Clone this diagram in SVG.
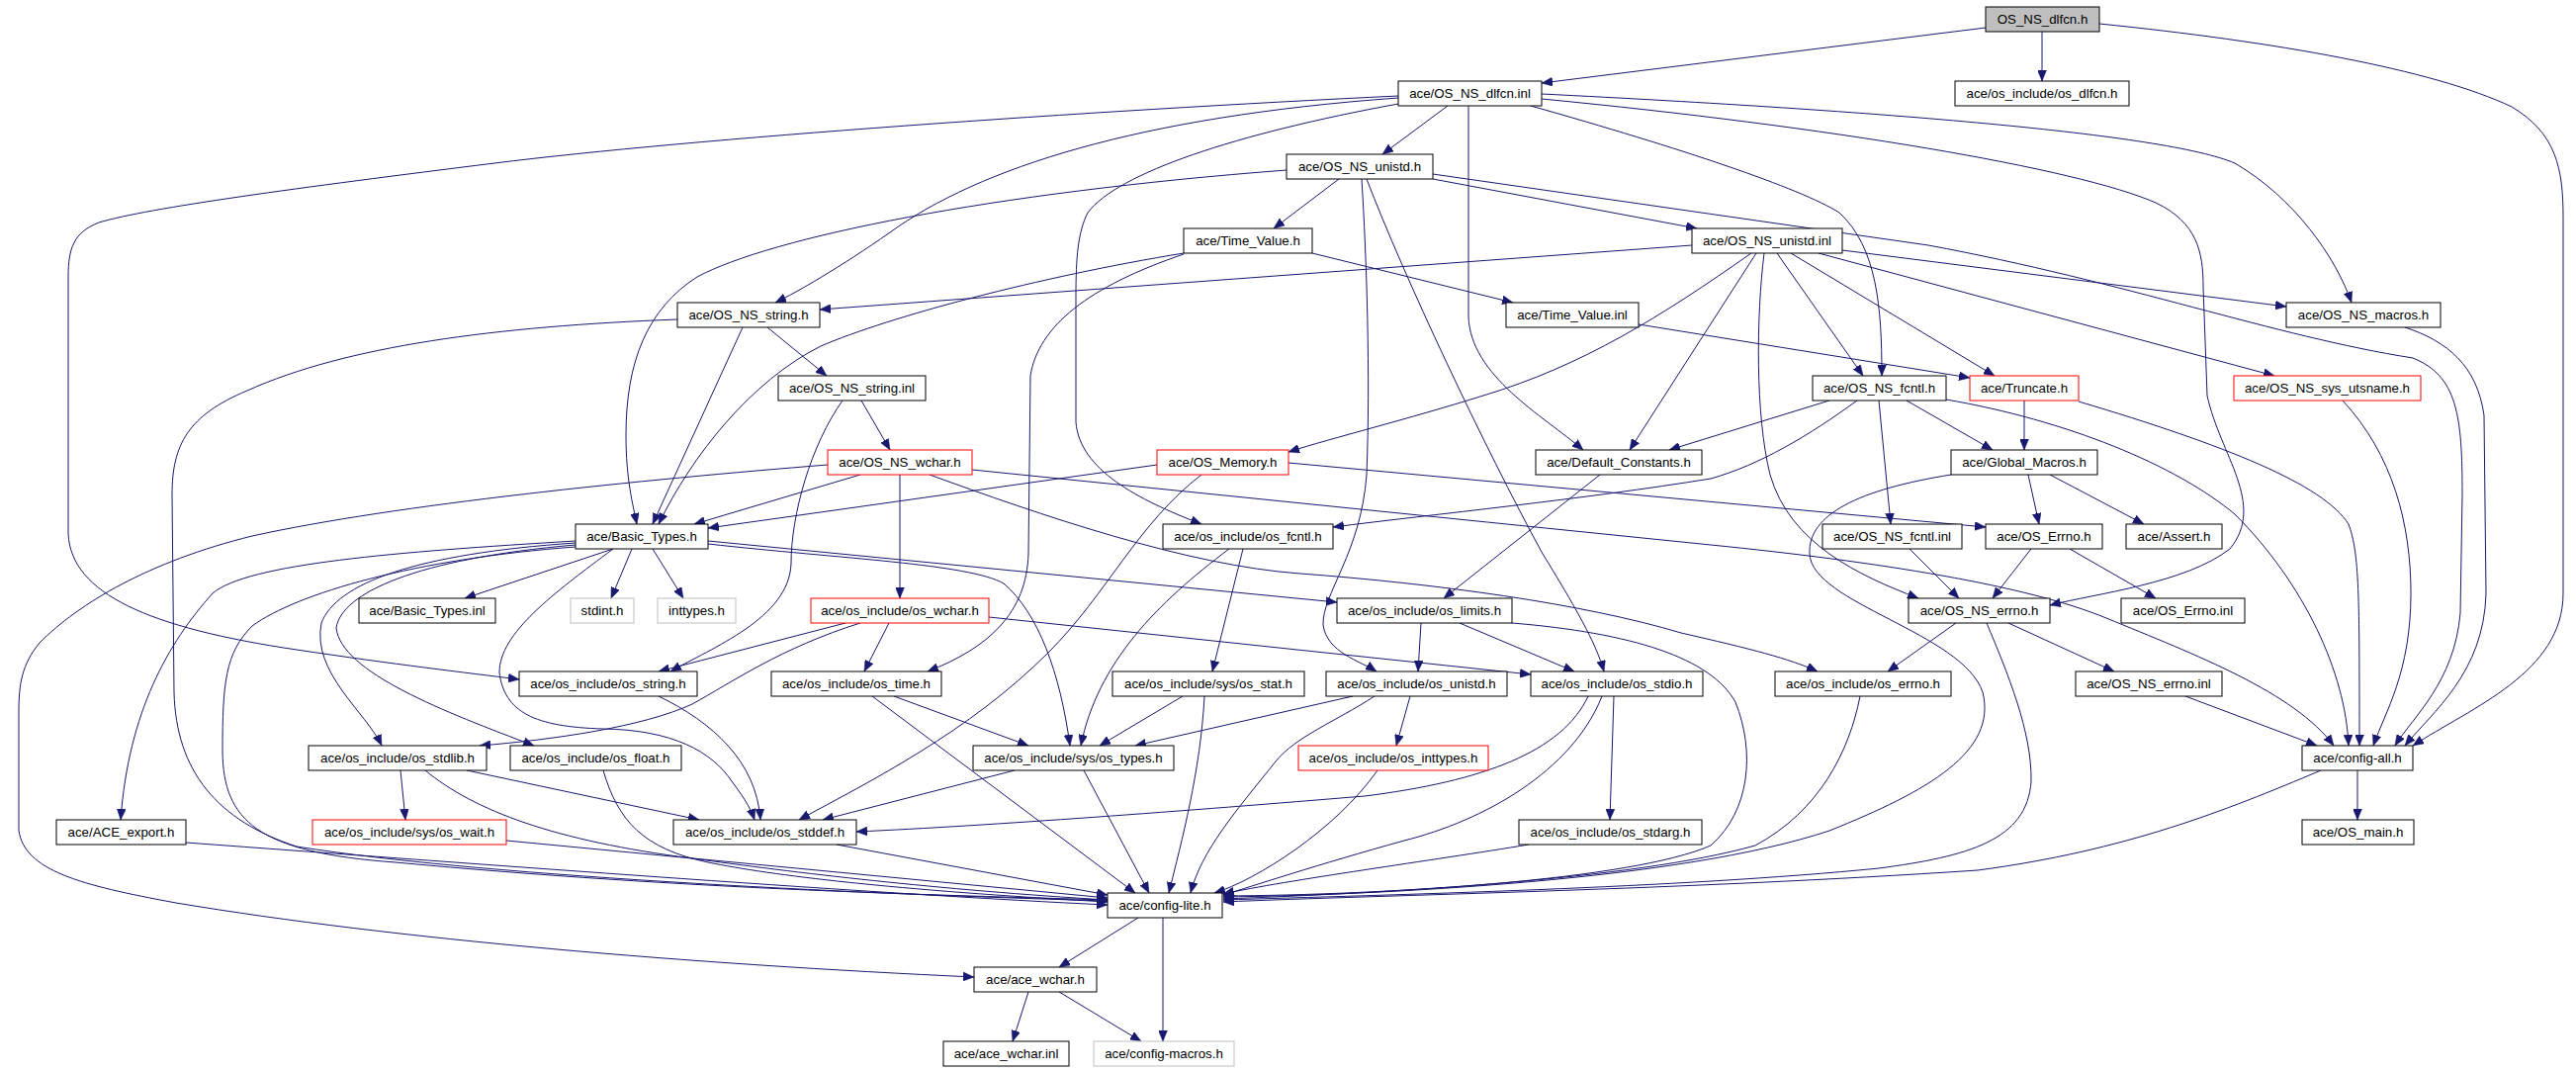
<svg xmlns="http://www.w3.org/2000/svg" width="2605" height="1083" viewBox="0 0 2605 1083">
<style>
.n rect{fill:#ffffff;stroke:#000000;stroke-width:1}
.n.r rect{stroke:#ff0000}
.n.g rect{stroke:#bfbfbf}
.n.root rect{fill:#bfbfbf}
.n text{font-family:"Liberation Sans",Arial,sans-serif;font-size:13.3px;fill:#000000;text-anchor:middle}
#edges path{fill:none;stroke:#191970;stroke-width:1;marker-end:url(#ah)}
</style>
<defs>
<marker id="ah" markerUnits="userSpaceOnUse" markerWidth="12" markerHeight="9" refX="11" refY="4.5" orient="auto">
<path d="M0,0 L11,4.5 L0,9 z" fill="#191970" stroke="#191970" stroke-width="0.5"/>
</marker>
</defs>
<rect x="0" y="0" width="2605" height="1083" fill="#ffffff"/>
<g id="edges">
<path d="M2008,28 L1559,84"/>
<path d="M2065,32 L2065,82"/>
<path d="M2123,24 C2300,42 2460,70 2540,108 C2585,135 2592,170 2592,220 L2592,600 C2592,680 2500,715 2440,754"/>
<path d="M1464,107 L1398,156"/>
<path d="M1414,99 C1150,118 990,170 900,235 C850,270 805,296 784,306"/>
<path d="M1414,97 C1100,112 700,140 500,165 C300,190 150,210 100,225 C75,235 69,250 69,280 L69,540 C72,600 150,635 300,657 C400,672 470,680 525,687"/>
<path d="M1414,105 C1250,135 1130,175 1100,215 C1090,235 1088,260 1088,300 L1088,427 C1092,475 1150,505 1215,530"/>
<path d="M1485,107 L1485,320 C1487,380 1560,420 1601,455"/>
<path d="M1559,95 C1900,112 2190,135 2260,165 C2320,200 2362,260 2378,306"/>
<path d="M1559,100 C1850,128 2100,170 2180,205 C2222,225 2228,255 2228,290 L2232,400 C2245,460 2292,510 2255,555 C2210,590 2120,600 2073,612"/>
<path d="M1548,107 C1700,150 1820,190 1860,215 C1898,250 1903,310 1903,380"/>
<path d="M1354,181 L1288,231"/>
<path d="M1449,181 L1716,231"/>
<path d="M1301,172 C1000,195 780,240 705,280 C655,312 633,365 633,440 C633,485 640,510 644,530"/>
<path d="M1377,181 C1382,260 1386,380 1382,480 C1376,560 1337,600 1338,632 C1342,660 1375,668 1392,679"/>
<path d="M1382,181 C1420,280 1500,450 1560,560 C1592,612 1614,650 1622,679"/>
<path d="M1449,176 L1950,248 C2150,285 2300,340 2440,362 C2485,380 2490,420 2490,500 L2488,620 C2482,690 2440,725 2422,754"/>
<path d="M2432,331 C2475,345 2505,370 2512,420 L2514,600 C2512,680 2460,720 2432,754"/>
<path d="M1197,256 C1050,280 900,320 830,350 C760,385 700,460 666,530"/>
<path d="M1197,257 C1100,290 1050,330 1042,380 L1040,560 C1038,620 1000,655 938,679"/>
<path d="M1327,256 L1530,306"/>
<path d="M1711,248 L829,313"/>
<path d="M1863,253 L2312,310"/>
<path d="M1839,256 L2300,380"/>
<path d="M1811,256 L2017,380"/>
<path d="M1797,256 L1884,380"/>
<path d="M1784,256 C1776,320 1775,420 1790,480 C1810,550 1880,582 1940,605"/>
<path d="M1776,256 L1648,455"/>
<path d="M1771,256 C1680,320 1600,370 1500,400 C1420,425 1350,442 1303,457"/>
<path d="M751,331 L660,530"/>
<path d="M776,331 L836,380"/>
<path d="M685,323 C500,330 350,350 250,395 C190,420 174,450 174,500 L176,700 C178,780 220,830 300,856 C500,888 900,905 1120,911"/>
<path d="M1657,328 L1992,382"/>
<path d="M871,405 L900,455"/>
<path d="M852,405 C820,450 800,520 800,570 C798,625 720,655 678,679"/>
<path d="M1878,405 C1830,440 1780,470 1730,484 C1600,505 1450,520 1348,533"/>
<path d="M1850,405 L1688,455"/>
<path d="M1928,405 L2015,455"/>
<path d="M1900,405 L1912,530"/>
<path d="M1968,404 C2090,425 2200,470 2260,520 C2330,590 2372,680 2375,754"/>
<path d="M2047,405 L2047,455"/>
<path d="M2102,406 C2250,450 2350,490 2375,530 C2386,560 2386,600 2386,754"/>
<path d="M2369,405 C2420,460 2438,530 2438,600 C2438,680 2412,720 2400,754"/>
<path d="M870,480 L702,530"/>
<path d="M910,480 L910,605"/>
<path d="M837,470 C650,485 400,510 255,542 C150,568 80,610 40,650 C22,672 19,692 19,720 L19,840 C25,880 80,895 178,913 C400,950 700,975 985,988"/>
<path d="M940,480 C1050,520 1200,572 1315,580 C1450,590 1600,610 1700,640 C1770,656 1810,666 1838,679"/>
<path d="M983,475 L1730,551 C1900,568 2050,592 2130,625 C2220,662 2320,700 2360,754"/>
<path d="M1170,470 L716,534"/>
<path d="M1303,468 L2008,533"/>
<path d="M1215,480 C1150,530 1120,600 1060,660 C980,740 880,790 808,829"/>
<path d="M1618,480 L1460,605"/>
<path d="M2051,480 L2062,530"/>
<path d="M2073,480 L2168,530"/>
<path d="M1973,480 C1880,495 1828,520 1830,560 C1832,610 1985,640 2005,700 C2020,760 1950,800 1850,840 C1700,890 1400,905 1237,907"/>
<path d="M1931,555 L1981,605"/>
<path d="M2054,555 L2015,605"/>
<path d="M2093,555 L2180,605"/>
<path d="M1978,630 L1909,679"/>
<path d="M2031,630 L2138,679"/>
<path d="M2009,630 C2030,680 2055,740 2054,790 C2050,850 1990,866 1900,878 C1700,898 1400,905 1237,910"/>
<path d="M1881,704 C1870,760 1840,820 1775,855 C1650,890 1400,903 1237,909"/>
<path d="M1529,630 C1650,640 1730,665 1755,710 C1775,760 1770,820 1730,855 C1650,890 1400,905 1237,906"/>
<path d="M1437,630 L1434,679"/>
<path d="M1476,630 L1592,679"/>
<path d="M855,630 L666,679"/>
<path d="M870,630 C790,655 740,690 700,712 C650,735 560,748 485,754"/>
<path d="M899,630 L874,679"/>
<path d="M1000,624 L1548,682"/>
<path d="M666,704 C720,730 765,770 769,829"/>
<path d="M882,704 L1148,903"/>
<path d="M904,704 L1040,754"/>
<path d="M1196,704 L1112,754"/>
<path d="M1218,704 C1214,780 1195,850 1182,903"/>
<path d="M1243,555 C1170,610 1110,670 1093,754"/>
<path d="M1257,555 L1226,679"/>
<path d="M1368,704 L1148,754"/>
<path d="M1390,704 C1350,730 1310,745 1290,770 C1250,820 1215,860 1204,903"/>
<path d="M1426,704 L1412,754"/>
<path d="M1606,704 C1580,760 1500,790 1380,805 C1200,820 1000,835 866,841"/>
<path d="M1620,704 C1590,780 1500,830 1420,850 C1330,875 1270,895 1237,905"/>
<path d="M1632,704 L1628,829"/>
<path d="M1393,779 C1350,840 1270,890 1228,903"/>
<path d="M1546,854 C1450,870 1300,890 1237,904"/>
<path d="M1096,779 L1162,903"/>
<path d="M1026,779 L832,829"/>
<path d="M472,779 L707,829"/>
<path d="M405,779 L410,829"/>
<path d="M430,779 C480,820 560,850 700,868 C800,882 950,900 1120,910"/>
<path d="M610,779 C625,830 650,858 716,872 C780,885 900,900 1120,912"/>
<path d="M512,850 L1120,908"/>
<path d="M188,852 C500,875 900,905 1120,915"/>
<path d="M846,854 L1120,905"/>
<path d="M2347,779 C2250,820 2150,860 2000,880 C1700,900 1400,905 1237,912"/>
<path d="M2384,779 L2384,829"/>
<path d="M1151,928 L1071,978"/>
<path d="M1176,928 L1176,1053"/>
<path d="M1040,1003 L1024,1053"/>
<path d="M1071,1003 L1154,1053"/>
<path d="M2210,704 L2343,754"/>
<path d="M620,555 L470,605"/>
<path d="M639,555 L618,605"/>
<path d="M660,555 L691,605"/>
<path d="M716,547 L1352,609"/>
<path d="M716,550 C850,565 980,570 1015,590 C1050,620 1072,680 1082,754"/>
<path d="M620,555 C560,600 505,640 505,680 C510,720 540,735 610,737 C680,738 720,760 740,790 C755,810 760,820 763,829"/>
<path d="M582,549 C420,560 340,590 325,630 C315,680 370,720 386,754"/>
<path d="M582,551 C420,565 345,600 340,635 C345,680 450,720 540,754"/>
<path d="M582,547 C400,558 250,570 215,600 C170,650 130,720 122,829"/>
<path d="M582,553 C420,565 300,600 255,633 C228,660 225,690 225,760 C226,830 260,862 400,872 C700,900 950,905 1120,910"/>
</g>
<g id="n0" class="n root"><rect x="2008" y="7" width="115" height="25"/><text x="2065.5" y="24">OS_NS_dlfcn.h</text></g>
<g id="n1" class="n"><rect x="1977" y="82" width="176" height="25"/><text x="2065" y="99">ace/os_include/os_dlfcn.h</text></g>
<g id="n2" class="n"><rect x="1414" y="82" width="145" height="25"/><text x="1486.5" y="99">ace/OS_NS_dlfcn.inl</text></g>
<g id="n3" class="n"><rect x="1301" y="156" width="148" height="25"/><text x="1375" y="173">ace/OS_NS_unistd.h</text></g>
<g id="n4" class="n"><rect x="1197" y="231" width="130" height="25"/><text x="1262" y="248">ace/Time_Value.h</text></g>
<g id="n5" class="n"><rect x="1711" y="231" width="152" height="25"/><text x="1787" y="248">ace/OS_NS_unistd.inl</text></g>
<g id="n6" class="n"><rect x="685" y="306" width="144" height="25"/><text x="757" y="323">ace/OS_NS_string.h</text></g>
<g id="n7" class="n"><rect x="1523" y="306" width="134" height="25"/><text x="1590" y="323">ace/Time_Value.inl</text></g>
<g id="n8" class="n"><rect x="2312" y="306" width="156" height="25"/><text x="2390" y="323">ace/OS_NS_macros.h</text></g>
<g id="n9" class="n"><rect x="787" y="380" width="149" height="25"/><text x="861.5" y="397">ace/OS_NS_string.inl</text></g>
<g id="n10" class="n"><rect x="1833" y="380" width="135" height="25"/><text x="1900.5" y="397">ace/OS_NS_fcntl.h</text></g>
<g id="n11" class="n r"><rect x="1992" y="380" width="110" height="25"/><text x="2047" y="397">ace/Truncate.h</text></g>
<g id="n12" class="n r"><rect x="2259" y="380" width="189" height="25"/><text x="2353.5" y="397">ace/OS_NS_sys_utsname.h</text></g>
<g id="n13" class="n r"><rect x="837" y="455" width="146" height="25"/><text x="910" y="472">ace/OS_NS_wchar.h</text></g>
<g id="n14" class="n r"><rect x="1170" y="455" width="133" height="25"/><text x="1236.5" y="472">ace/OS_Memory.h</text></g>
<g id="n15" class="n"><rect x="1553" y="455" width="168" height="25"/><text x="1637" y="472">ace/Default_Constants.h</text></g>
<g id="n16" class="n"><rect x="1973" y="455" width="148" height="25"/><text x="2047" y="472">ace/Global_Macros.h</text></g>
<g id="n17" class="n"><rect x="582" y="530" width="134" height="25"/><text x="649" y="547">ace/Basic_Types.h</text></g>
<g id="n18" class="n"><rect x="1176" y="530" width="172" height="25"/><text x="1262" y="547">ace/os_include/os_fcntl.h</text></g>
<g id="n19" class="n"><rect x="1843" y="530" width="141" height="25"/><text x="1913.5" y="547">ace/OS_NS_fcntl.inl</text></g>
<g id="n20" class="n"><rect x="2008" y="530" width="118" height="25"/><text x="2067" y="547">ace/OS_Errno.h</text></g>
<g id="n21" class="n"><rect x="2150" y="530" width="97" height="25"/><text x="2198.5" y="547">ace/Assert.h</text></g>
<g id="n22" class="n"><rect x="363" y="605" width="138" height="25"/><text x="432" y="622">ace/Basic_Types.inl</text></g>
<g id="n23" class="n g"><rect x="577" y="605" width="64" height="25"/><text x="609" y="622">stdint.h</text></g>
<g id="n24" class="n g"><rect x="665" y="605" width="79" height="25"/><text x="704.5" y="622">inttypes.h</text></g>
<g id="n25" class="n r"><rect x="820" y="605" width="180" height="25"/><text x="910" y="622">ace/os_include/os_wchar.h</text></g>
<g id="n26" class="n"><rect x="1352" y="605" width="177" height="25"/><text x="1440.5" y="622">ace/os_include/os_limits.h</text></g>
<g id="n27" class="n"><rect x="1930" y="605" width="143" height="25"/><text x="2001.5" y="622">ace/OS_NS_errno.h</text></g>
<g id="n28" class="n"><rect x="2145" y="605" width="125" height="25"/><text x="2207.5" y="622">ace/OS_Errno.inl</text></g>
<g id="n29" class="n"><rect x="525" y="679" width="180" height="25"/><text x="615" y="696">ace/os_include/os_string.h</text></g>
<g id="n30" class="n"><rect x="780" y="679" width="172" height="25"/><text x="866" y="696">ace/os_include/os_time.h</text></g>
<g id="n31" class="n"><rect x="1125" y="679" width="194" height="25"/><text x="1222" y="696">ace/os_include/sys/os_stat.h</text></g>
<g id="n32" class="n"><rect x="1341" y="679" width="183" height="25"/><text x="1432.5" y="696">ace/os_include/os_unistd.h</text></g>
<g id="n33" class="n"><rect x="1548" y="679" width="174" height="25"/><text x="1635" y="696">ace/os_include/os_stdio.h</text></g>
<g id="n34" class="n"><rect x="1795" y="679" width="178" height="25"/><text x="1884" y="696">ace/os_include/os_errno.h</text></g>
<g id="n35" class="n"><rect x="2099" y="679" width="148" height="25"/><text x="2173" y="696">ace/OS_NS_errno.inl</text></g>
<g id="n36" class="n"><rect x="312" y="754" width="180" height="25"/><text x="402" y="771">ace/os_include/os_stdlib.h</text></g>
<g id="n37" class="n"><rect x="516" y="754" width="173" height="25"/><text x="602.5" y="771">ace/os_include/os_float.h</text></g>
<g id="n38" class="n"><rect x="984" y="754" width="203" height="25"/><text x="1085.5" y="771">ace/os_include/sys/os_types.h</text></g>
<g id="n39" class="n r"><rect x="1313" y="754" width="192" height="25"/><text x="1409" y="771">ace/os_include/os_inttypes.h</text></g>
<g id="n40" class="n"><rect x="2328" y="754" width="112" height="25"/><text x="2384" y="771">ace/config-all.h</text></g>
<g id="n41" class="n"><rect x="57" y="829" width="131" height="25"/><text x="122.5" y="846">ace/ACE_export.h</text></g>
<g id="n42" class="n r"><rect x="316" y="829" width="196" height="25"/><text x="414" y="846">ace/os_include/sys/os_wait.h</text></g>
<g id="n43" class="n"><rect x="681" y="829" width="185" height="25"/><text x="773.5" y="846">ace/os_include/os_stddef.h</text></g>
<g id="n44" class="n"><rect x="1536" y="829" width="185" height="25"/><text x="1628.5" y="846">ace/os_include/os_stdarg.h</text></g>
<g id="n45" class="n"><rect x="2328" y="829" width="113" height="25"/><text x="2384.5" y="846">ace/OS_main.h</text></g>
<g id="n46" class="n"><rect x="1120" y="903" width="116" height="25"/><text x="1178" y="920">ace/config-lite.h</text></g>
<g id="n47" class="n"><rect x="985" y="978" width="124" height="25"/><text x="1047" y="995">ace/ace_wchar.h</text></g>
<g id="n48" class="n"><rect x="954" y="1053" width="127" height="25"/><text x="1017.5" y="1070">ace/ace_wchar.inl</text></g>
<g id="n49" class="n g"><rect x="1106" y="1053" width="142" height="25"/><text x="1177" y="1070">ace/config-macros.h</text></g>
</svg>
